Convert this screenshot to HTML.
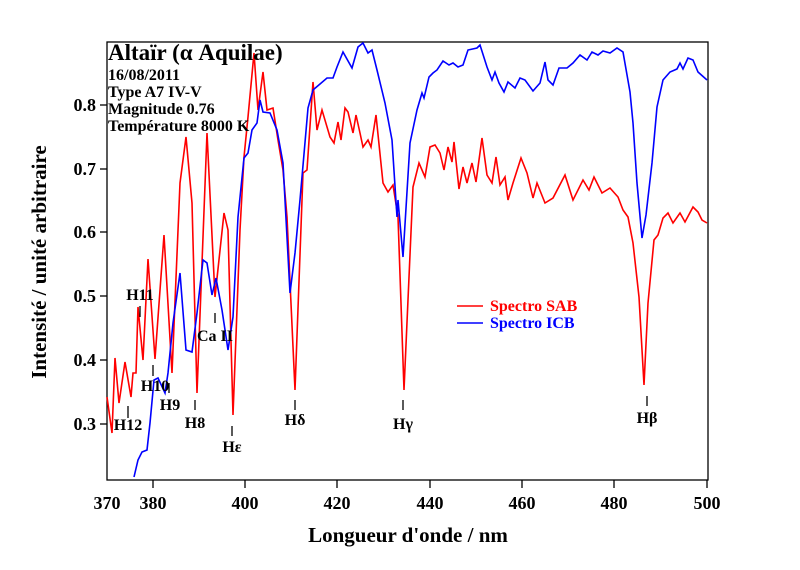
<!DOCTYPE html>
<html><head><meta charset="utf-8"><style>
body{margin:0;background:#fff;}
svg text{font-family:"Liberation Serif",serif;font-weight:bold;}
</style></head><body>
<svg width="800" height="565" viewBox="0 0 800 565" xmlns="http://www.w3.org/2000/svg">
<rect width="800" height="565" fill="#fff"/>
<rect x="107" y="42" width="601" height="438" fill="none" stroke="#000" stroke-width="1.3"/>
<g stroke="#000" stroke-width="1.3">
<line x1="153" y1="480" x2="153" y2="488"/><line x1="245" y1="480" x2="245" y2="488"/><line x1="337" y1="480" x2="337" y2="488"/><line x1="430" y1="480" x2="430" y2="488"/><line x1="522" y1="480" x2="522" y2="488"/><line x1="614" y1="480" x2="614" y2="488"/><line x1="707" y1="480" x2="707" y2="488"/>
<line x1="100" y1="424" x2="107" y2="424"/><line x1="100" y1="360" x2="107" y2="360"/><line x1="100" y1="296" x2="107" y2="296"/><line x1="100" y1="232" x2="107" y2="232"/><line x1="100" y1="169" x2="107" y2="169"/><line x1="100" y1="105" x2="107" y2="105"/>
</g>
<g font-size="18" text-anchor="middle">
<text x="107" y="509">370</text><text x="153" y="509">380</text><text x="245" y="509">400</text><text x="337" y="509">420</text><text x="430" y="509">440</text><text x="522" y="509">460</text><text x="614" y="509">480</text><text x="707" y="509">500</text>
</g>
<g font-size="18" text-anchor="end">
<text x="96" y="430">0.3</text><text x="96" y="366">0.4</text><text x="96" y="302">0.5</text><text x="96" y="238">0.6</text><text x="96" y="175">0.7</text><text x="96" y="111">0.8</text>
</g>
<text x="408" y="542" font-size="21" text-anchor="middle">Longueur d'onde / nm</text>
<text transform="translate(46,262) rotate(-90)" font-size="21" text-anchor="middle">Intensité / unité arbitraire</text>
<polyline fill="none" stroke="#f00" stroke-width="1.6" points="107,397 112,433 115,358 119,403 125,362 131,397 133,373 136,373 138,307 143,360 148,259 155,359 164,235 172,373 180,183 186,137 192,203 197,393 207,133 215,297 224,213 228,230 233,415 240,230 244,157 248,117 254,53 258,110 263,72 267,110 273,108 278,140 283,170 287,217 295,390 303,173 307,170 313,82 317,130 322,110 330,137 334,143 338,122 341,140 345,108 348,112 353,133 356,115 360,133 363,147 368,140 371,147 376,115 383,183 388,192 393,185 398,217 404,390 413,187 419,163 425,177 430,147 435,145 440,153 444,170 448,147 452,162 454,142 459,189 463,167 467,183 472,163 476,182 482,138 487,175 492,183 496,157 500,185 505,177 508,200 513,183 521,158 527,173 533,198 537,183 545,203 553,198 565,175 573,200 583,180 589,190 594,177 602,193 610,188 618,197 623,210 628,217 633,243 639,297 644,385 648,303 654,240 658,235 663,218 668,213 673,223 680,213 685,222 693,207 698,212 702,220 707,223"/>
<polyline fill="none" stroke="#00f" stroke-width="1.6" points="134,477 138,460 142,452 147,450 150,423 154,380 158,378 165,393 168,373 173,323 180,273 186,350 192,352 197,313 203,260 207,263 212,295 216,278 222,310 228,350 233,317 238,217 244,158 248,153 252,130 257,123 260,100 263,112 270,113 277,130 283,163 290,293 295,253 300,200 308,108 313,90 327,78 333,78 337,67 343,52 352,68 358,47 363,43 368,53 372,50 377,70 385,103 392,140 397,217 398,200 403,257 410,143 417,110 422,93 424,98 429,77 433,73 437,70 443,61 449,65 453,63 458,67 463,65 468,50 477,48 480,45 487,67 492,80 495,72 499,83 504,92 508,82 515,88 520,78 525,80 533,91 540,83 545,62 548,80 553,85 559,68 567,68 573,63 580,55 587,60 592,52 598,55 603,51 610,53 617,48 623,52 630,92 633,123 637,183 642,238 646,215 652,163 657,107 663,80 670,72 677,69 680,63 683,69 688,58 693,60 698,72 707,80"/>
<g stroke="#000" stroke-width="1.3">
<line x1="128" y1="406" x2="128" y2="418"/><line x1="140" y1="306" x2="140" y2="317"/><line x1="153" y1="365" x2="153" y2="376"/><line x1="169" y1="383" x2="169" y2="393"/><line x1="195" y1="400" x2="195" y2="410"/><line x1="232" y1="426" x2="232" y2="436"/><line x1="215" y1="313" x2="215" y2="323"/><line x1="295" y1="400" x2="295" y2="410"/><line x1="403" y1="400" x2="403" y2="410"/><line x1="647" y1="396" x2="647" y2="406"/>
</g>
<g font-size="16" text-anchor="middle">
<text x="128" y="430">H12</text><text x="140" y="300">H11</text><text x="155" y="391">H10</text><text x="170" y="410">H9</text><text x="195" y="428">H8</text><text x="232" y="452">Hε</text><text x="215" y="341">Ca II</text><text x="295" y="425">Hδ</text><text x="403" y="429">Hγ</text><text x="647" y="423">Hβ</text>
</g>
<line x1="457" y1="306" x2="483" y2="306" stroke="#f00" stroke-width="1.6"/>
<line x1="457" y1="323" x2="483" y2="323" stroke="#00f" stroke-width="1.6"/>
<text x="490" y="311" font-size="16" fill="#f00">Spectro SAB</text>
<text x="490" y="328" font-size="16" fill="#00f">Spectro ICB</text>
<text x="108" y="60" font-size="23">Altaïr (α Aquilae)</text>
<g font-size="16">
<text x="108" y="80">16/08/2011</text><text x="108" y="97">Type A7 IV-V</text><text x="108" y="114">Magnitude 0.76</text><text x="108" y="131">Température 8000 K</text>
</g>
</svg>
</body></html>
